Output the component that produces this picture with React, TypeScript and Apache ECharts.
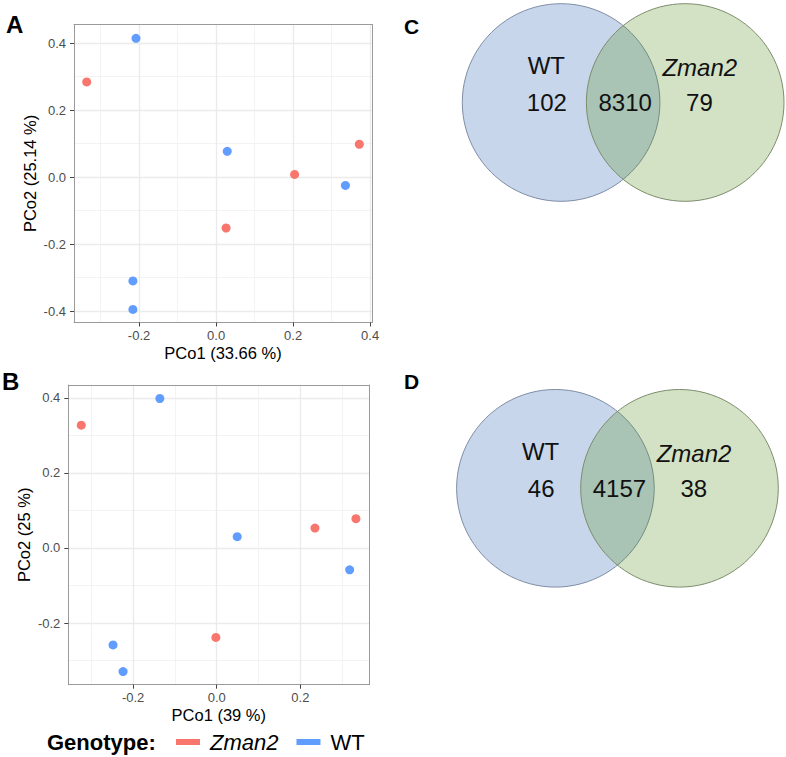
import React, { useEffect, useRef } from 'react';
import * as echarts from 'echarts';

// ---------- data ----------
const GENOTYPES = ['Zman2', 'WT'];

// Panel A: PCoA (PCo1 33.66 %, PCo2 25.14 %)
const A_ZMAN2 = [[-0.336, 0.284], [0.026, -0.152], [0.204, 0.008], [0.372, 0.098]];
const A_WT = [[-0.208, 0.414], [0.029, 0.077], [0.336, -0.025], [-0.216, -0.31], [-0.216, -0.395]];
// Panel B: PCoA (PCo1 39 %, PCo2 25 %)
const B_ZMAN2 = [[-0.324, 0.327], [-0.002, -0.238], [0.235, 0.053], [0.333, 0.078]];
const B_WT = [[-0.136, 0.398], [0.049, 0.03], [0.318, -0.058], [-0.248, -0.258], [-0.224, -0.329]];

const A_X_TICKS = [-0.2, 0, 0.2, 0.4];
const A_Y_TICKS = [-0.4, -0.2, 0, 0.2, 0.4];
const B_X_TICKS = [-0.2, 0, 0.2];
const B_Y_TICKS = [-0.2, 0, 0.2, 0.4];

const A_X_NAME = 'PCo1 (33.66 %)';
const A_Y_NAME = 'PCo2 (25.14 %)';
const B_X_NAME = 'PCo1 (39 %)';
const B_Y_NAME = 'PCo2 (25 %)';

// Venn: [WT only, shared, Zman2 only]
const VENN_SETS = ['WT', 'Zman2'];
const VENN_C = [102, 8310, 79];
const VENN_D = [46, 4157, 38];

// ---------- styles / layout ----------
const FONT = '"Liberation Sans", Arial, Helvetica, sans-serif';
const COLORS = ['#F8766D', '#619CFF'];
const BORDER = '#9a9a9a';
const TICK = '#444444';
const VENN_FILLS = ['#c7d6eb', 'rgba(80,141,19,0.25)'];
const VENN_STROKES = ['#7f8ea6', '#7e8d6d'];
const VENN_CENTER_X = [-0.628, 0.628];
const VENN_NAME_POS = [[-0.778, 0.375], [0.775, 0.35]];
const VENN_COUNT_POS = [[-0.772, 0], [0.02, 0], [0.772, 0]];

function mainX(gridIndex: number, min: number, max: number, ticks: number[], name: string, nameGap: number) {
  return {
    type: 'value', gridIndex, min, max, position: 'bottom', splitNumber: 4,
    name, nameLocation: 'middle', nameGap,
    nameTextStyle: { fontSize: 16.5, color: '#000', fontFamily: FONT },
    axisLine: { show: true, onZero: false, lineStyle: { color: BORDER, width: 1 } },
    axisTick: { show: true, length: 4, lineStyle: { color: TICK }, customValues: ticks },
    axisLabel: { customValues: ticks, formatter: (v: number) => v.toFixed(1), color: '#4d4d4d', fontSize: 13, margin: 6, fontFamily: FONT },
    splitLine: { show: true, lineStyle: { color: '#ebebeb', width: 1.4 } },
    minorTick: { show: false, splitNumber: 2 },
    minorSplitLine: { show: true, lineStyle: { color: '#f0f0f0', width: 0.8 } },
  };
}
function mainY(gridIndex: number, min: number, max: number, ticks: number[], name: string, nameGap: number) {
  return {
    type: 'value', gridIndex, min, max, position: 'left', splitNumber: 4,
    name, nameLocation: 'middle', nameGap,
    nameTextStyle: { fontSize: 16.5, color: '#000', fontFamily: FONT },
    axisLine: { show: true, onZero: false, lineStyle: { color: BORDER, width: 1 } },
    axisTick: { show: true, length: 4, lineStyle: { color: TICK }, customValues: ticks },
    axisLabel: { customValues: ticks, formatter: (v: number) => v.toFixed(1), color: '#4d4d4d', fontSize: 13, margin: 8, fontFamily: FONT },
    splitLine: { show: true, lineStyle: { color: '#ebebeb', width: 1.4 } },
    minorTick: { show: false, splitNumber: 2 },
    minorSplitLine: { show: true, lineStyle: { color: '#f0f0f0', width: 0.8 } },
  };
}
function borderAxis(gridIndex: number, min: number, max: number, position: string) {
  return {
    type: 'value', gridIndex, min, max, position,
    axisLine: { show: true, onZero: false, lineStyle: { color: BORDER, width: 1 } },
    axisTick: { show: false }, axisLabel: { show: false }, splitLine: { show: false },
  };
}
function hiddenAxis(gridIndex: number, min: number, max: number) {
  return { type: 'value', gridIndex, min, max, show: false };
}

function vennSeries(idx: number, counts: number[]) {
  const circles = VENN_CENTER_X.map((cx) => [cx, 0, 1]);
  const labels = [
    { text: VENN_SETS[0], italic: false, pos: VENN_NAME_POS[0] },
    { text: VENN_SETS[1], italic: true, pos: VENN_NAME_POS[1] },
    ...counts.map((c, i) => ({ text: String(c), italic: false, pos: VENN_COUNT_POS[i] })),
  ];
  return [
    {
      type: 'custom', xAxisIndex: idx, yAxisIndex: idx, silent: true,
      data: circles,
      renderItem: (params: any, api: any) => {
        const p = api.coord([api.value(0), api.value(1)]);
        const r = api.size([api.value(2), 0])[0];
        const i = params.dataIndex;
        return {
          type: 'circle',
          shape: { cx: p[0], cy: p[1], r },
          style: { fill: VENN_FILLS[i], stroke: VENN_STROKES[i], lineWidth: 1 },
        };
      },
    },
    {
      type: 'custom', xAxisIndex: idx, yAxisIndex: idx, silent: true,
      data: labels.map((l) => [l.pos[0], l.pos[1]]),
      renderItem: (params: any, api: any) => {
        const p = api.coord([api.value(0), api.value(1)]);
        const l = labels[params.dataIndex];
        return {
          type: 'text', x: p[0], y: p[1],
          style: {
            text: l.text, fontSize: 24, fontFamily: FONT, fontStyle: l.italic ? 'italic' : 'normal',
            fill: '#111', align: 'center', verticalAlign: 'middle',
          },
        };
      },
    },
  ];
}

function scatter(name: string, data: number[][], axisIndex: number, color: string) {
  return {
    type: 'scatter', name, data, xAxisIndex: axisIndex, yAxisIndex: axisIndex,
    symbolSize: 9, itemStyle: { color, opacity: 1 }, silent: true,
  };
}

function letter(text: string, x: number, y: number, size: number) {
  return {
    type: 'text', x, y,
    style: { text, fontSize: size, fontWeight: 'bold', fontFamily: FONT, fill: '#000', verticalAlign: 'middle', align: 'left' },
  };
}

export default function App() {
  const ref = useRef<HTMLDivElement>(null);
  useEffect(() => {
    if (!ref.current) return;
    const chart = echarts.init(ref.current, null, { renderer: 'svg' });
    const A = { x: [-0.369, 0.405], y: [-0.434, 0.456] };
    const B = { x: [-0.355, 0.365], y: [-0.364, 0.434] };
    const V = { x: [-1.628, 1.628], y: [-1, 1] };
    chart.setOption({
      animation: false,
      backgroundColor: '#fff',
      grid: [
        { left: 74, top: 24.3, width: 298, height: 298.2 },
        { left: 68.3, top: 385, width: 301, height: 299.7 },
        { left: 462.3, top: 3.8, width: 321.7, height: 197.4 },
        { left: 456.6, top: 389.6, width: 321.7, height: 197.4 },
      ],
      xAxis: [
        mainX(0, A.x[0], A.x[1], A_X_TICKS, A_X_NAME, 22),
        borderAxis(0, A.x[0], A.x[1], 'top'),
        mainX(1, B.x[0], B.x[1], B_X_TICKS, B_X_NAME, 22),
        borderAxis(1, B.x[0], B.x[1], 'top'),
        hiddenAxis(2, V.x[0], V.x[1]),
        hiddenAxis(3, V.x[0], V.x[1]),
      ],
      yAxis: [
        mainY(0, A.y[0], A.y[1], A_Y_TICKS, A_Y_NAME, 36),
        borderAxis(0, A.y[0], A.y[1], 'right'),
        mainY(1, B.y[0], B.y[1], B_Y_TICKS, B_Y_NAME, 36),
        borderAxis(1, B.y[0], B.y[1], 'right'),
        hiddenAxis(2, V.y[0], V.y[1]),
        hiddenAxis(3, V.y[0], V.y[1]),
      ],
      legend: {
        data: GENOTYPES, left: 176, top: 731, orient: 'horizontal',
        itemWidth: 24, itemHeight: 6, itemGap: 18, icon: 'rect', padding: 0, selectedMode: false,
        formatter: (name: string) => (name === 'Zman2' ? `{i|${name}}` : `{n|${name}}`),
        textStyle: {
          fontSize: 22, color: '#000', fontFamily: FONT,
          rich: {
            i: { fontStyle: 'italic', fontSize: 22, fontFamily: FONT, color: '#000', padding: [0, 0, 0, 5] },
            n: { fontSize: 22, fontFamily: FONT, color: '#000', padding: [0, 0, 0, 5] },
          },
        },
      },
      series: [
        scatter(GENOTYPES[0], A_ZMAN2, 0, COLORS[0]),
        scatter(GENOTYPES[1], A_WT, 0, COLORS[1]),
        scatter(GENOTYPES[0], B_ZMAN2, 2, COLORS[0]),
        scatter(GENOTYPES[1], B_WT, 2, COLORS[1]),
        ...vennSeries(4, VENN_C),
        ...vennSeries(5, VENN_D),
      ],
      graphic: [
        letter('A', 6, 24, 24),
        letter('B', 2, 381.5, 24),
        letter('C', 404, 26.5, 21),
        letter('D', 404, 381.5, 21),
        {
          type: 'text', x: 47, y: 742.7,
          style: { text: 'Genotype:', fontSize: 22, fontWeight: 'bold', fontFamily: FONT, fill: '#000', verticalAlign: 'middle', align: 'left' },
        },
      ],
    });
    return () => chart.dispose();
  }, []);
  return <div ref={ref} style={{ position: 'absolute', left: 0, top: 0, width: 786, height: 757 }} />;
}
